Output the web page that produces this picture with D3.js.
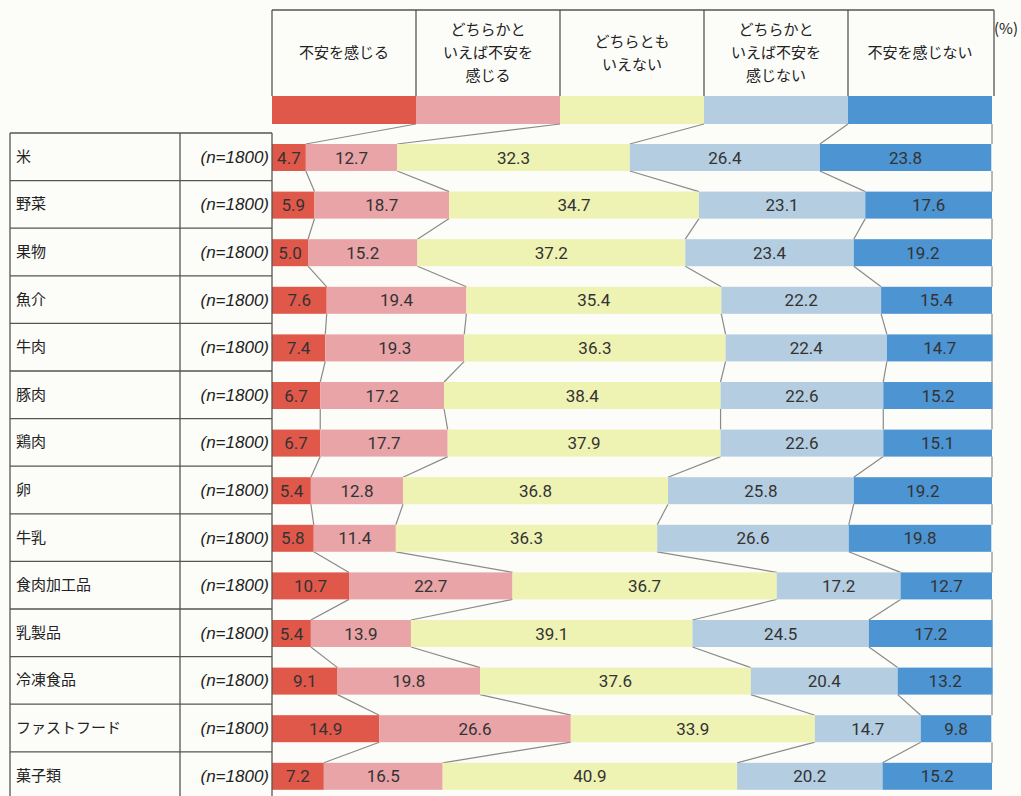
<!DOCTYPE html>
<html><head><meta charset="utf-8">
<script src="https://cdn.jsdelivr.net/npm/d3@7"></script>
<style>
html,body{margin:0;padding:0;background:#fcfcf9;}
svg{display:block;}
</style></head>
<body>
<svg id="c" width="1021" height="796"></svg>
<script>
const categories = ["米","野菜","果物","魚介","牛肉","豚肉","鶏肉","卵","牛乳","食肉加工品","乳製品","冷凍食品","ファストフード","菓子類"];
const sampleLabel = "(n=1800)";
const seriesNames = ["不安を感じる","どちらかといえば不安を感じる","どちらともいえない","どちらかといえば不安を感じない","不安を感じない"];
const headerLines = [["不安を感じる"],["どちらかと","いえば不安を","感じる"],["どちらとも","いえない"],["どちらかと","いえば不安を","感じない"],["不安を感じない"]];
const s1 = [4.7,5.9,5.0,7.6,7.4,6.7,6.7,5.4,5.8,10.7,5.4,9.1,14.9,7.2];
const s2 = [12.7,18.7,15.2,19.4,19.3,17.2,17.7,12.8,11.4,22.7,13.9,19.8,26.6,16.5];
const s3 = [32.3,34.7,37.2,35.4,36.3,38.4,37.9,36.8,36.3,36.7,39.1,37.6,33.9,40.9];
const s4 = [26.4,23.1,23.4,22.2,22.4,22.6,22.6,25.8,26.6,17.2,24.5,20.4,14.7,20.2];
const s5 = [23.8,17.6,19.2,15.4,14.7,15.2,15.1,19.2,19.8,12.7,17.2,13.2,9.8,15.2];
const unitLabel = "(%)";
const colors = ["#e0584a","#e8a4a7","#eef2b2","#b4cde1","#4c94d2"];

const series = [s1,s2,s3,s4,s5];
const svg = d3.select("#c");
const jp = "'Noto Sans CJK JP', sans-serif";
const num = "Roboto, sans-serif";

const x0 = 272, x1 = 992;
const x = d3.scaleLinear().domain([0,100]).range([x0,x1]);
const rowTop0 = 133, rowH = 47.6;
const y = d3.scaleBand().domain(categories).range([rowTop0, rowTop0 + rowH*categories.length]).paddingInner(0).paddingOuter(0);
const barH = 27, barOff = 11;

const rows = categories.map((c,i)=>{ const o={cat:c}; series.forEach((s,k)=>o["k"+k]=s[i]); return o;});
const stack = d3.stack().keys(series.map((s,k)=>"k"+k))(rows);

// legend header
const lx = d3.scaleBand().domain(d3.range(5)).range([x0,x1]);
const hTop = 10, hBot = 96, sBot = 124;
const hdr = svg.append("g");
hdr.append("line").attr("x1",x0).attr("x2",x1+2).attr("y1",hTop).attr("y2",hTop).attr("stroke","#555").attr("stroke-width",1.3);
d3.range(6).forEach(k=>{
  const xx = k<5 ? lx(k) : x1+2;
  hdr.append("line").attr("x1",xx).attr("x2",xx).attr("y1",hTop).attr("y2",hBot).attr("stroke","#555").attr("stroke-width",1.3);
});
headerLines.forEach((lines,k)=>{
  const cx = lx(k)+lx.bandwidth()/2;
  const lh = 23;
  const startY = 53 - (lines.length-1)*lh/2 + 5;
  lines.forEach((t,j)=>{
    hdr.append("text").attr("x",cx).attr("y",startY + j*lh).attr("text-anchor","middle")
      .attr("font-family",jp).attr("font-size",15).attr("fill","#222").text(t);
  });
  hdr.append("rect").attr("x",lx(k)).attr("y",hBot).attr("width",lx.bandwidth()).attr("height",sBot-hBot).attr("fill",colors[k]);
});
svg.append("text").attr("x",994).attr("y",34).attr("font-family",jp).attr("font-size",15).attr("fill","#222").text(unitLabel);

// connector lines
const conn = svg.append("g").attr("stroke","#8a8a8a").attr("stroke-width",1.2).attr("fill","none");
for(let k=1;k<5;k++){
  conn.append("line").attr("x1",lx(k)).attr("y1",sBot).attr("x2",x(stack[k-1][0][1])).attr("y2",y(categories[0])+barOff);
}
conn.append("line").attr("x1",x1).attr("y1",sBot).attr("x2",x1).attr("y2",y(categories[0])+barOff);
for(let i=0;i<categories.length-1;i++){
  const yb = y(categories[i])+barOff+barH, yt = y(categories[i+1])+barOff;
  for(let k=1;k<5;k++){
    conn.append("line").attr("x1",x(stack[k-1][i][1])).attr("y1",yb).attr("x2",x(stack[k-1][i+1][1])).attr("y2",yt);
  }
  conn.append("line").attr("x1",x1).attr("y1",yb).attr("x2",x1).attr("y2",yt);
}

// bars
stack.forEach((layer,k)=>{
  const g = svg.append("g");
  g.selectAll("rect").data(layer).join("rect")
    .attr("x",d=>x(d[0])).attr("width",d=>x(d[1])-x(d[0]))
    .attr("y",d=>y(d.data.cat)+barOff).attr("height",barH)
    .attr("fill",colors[k]);
  g.selectAll("text").data(layer).join("text")
    .attr("x",d=>(x(d[0])+x(d[1]))/2).attr("y",d=>y(d.data.cat)+barOff+barH/2+6)
    .attr("text-anchor","middle").attr("font-family",num).attr("font-weight",400).attr("font-size",17).attr("fill","#333")
    .text(d=>(d[1]-d[0]).toFixed(1));
});

// left table
const tbl = svg.append("g");
const tL = 10, tM = 180, tR = x0;
const tBottom = rowTop0 + rowH*categories.length;
[tL,tM,tR].forEach(xx=>tbl.append("line").attr("x1",xx).attr("x2",xx).attr("y1",rowTop0).attr("y2",tBottom).attr("stroke","#555").attr("stroke-width",1.3));
categories.forEach((c,i)=>{
  const yt = y(c);
  tbl.append("line").attr("x1",tL).attr("x2",tR).attr("y1",yt).attr("y2",yt).attr("stroke","#555").attr("stroke-width",1.3);
  tbl.append("text").attr("x",16).attr("y",yt+rowH/2+5).attr("font-family",jp).attr("font-size",15).attr("fill","#222").text(c);
  tbl.append("text").attr("x",269).attr("y",yt+rowH/2+6).attr("text-anchor","end").attr("font-family","'Liberation Sans',Arial,sans-serif").attr("font-style","italic").attr("font-size",17).attr("fill","#222").text(sampleLabel);
});
tbl.append("line").attr("x1",tL).attr("x2",tR).attr("y1",tBottom).attr("y2",tBottom).attr("stroke","#555").attr("stroke-width",1.3);
</script>
</body></html>
